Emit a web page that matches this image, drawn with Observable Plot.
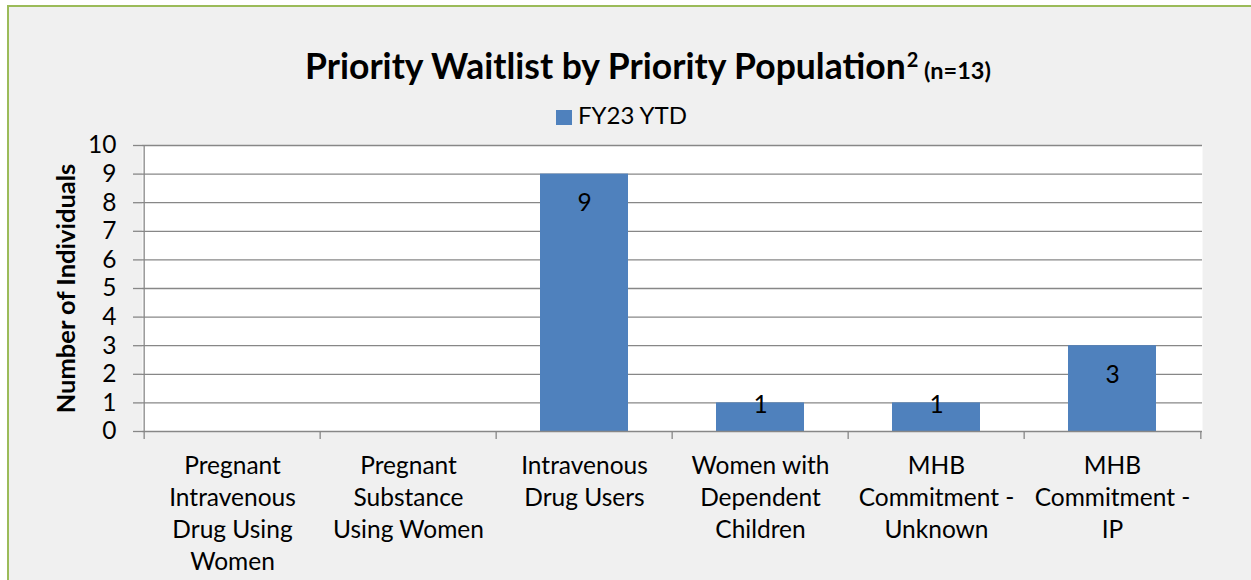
<!DOCTYPE html>
<html>
<head>
<meta charset="utf-8">
<script src="https://cdn.jsdelivr.net/npm/d3@7"></script>
<script src="https://cdn.jsdelivr.net/npm/@observablehq/plot@0.6"></script>
<style>
  html, body { margin: 0; padding: 0; background: #ffffff; }
  #wrap { position: relative; width: 1251px; height: 580px; overflow: hidden; font-family: Lato, sans-serif; color: #000; }
  #border { position: absolute; left: 7px; top: 5px; width: 1400px; height: 800px; border: 2px solid #9bbb59; background: #f0f0f0; box-sizing: border-box; }
  #title { position: absolute; left: 648px; top: 48px; transform: translateX(-50%); white-space: nowrap; font-weight: bold; line-height: 1; }
  #title .main { font-size: 35.5px; }
  #title sup { font-size: 20px; vertical-align: 12px; line-height: 0; margin-left: 1px; }
  #title .n { font-size: 23.5px; }
  #legend { position: absolute; left: 556px; top: 103px; white-space: nowrap; font-size: 24px; line-height: 1; }
  #legend .sw { position: absolute; left: 0; top: 7px; width: 16px; height: 15px; background: #4f81bd; }
  #legend .lbl { position: absolute; left: 22px; top: 0; }
  #chart { position: absolute; left: 0; top: 0; }
</style>
</head>
<body>
<div id="wrap">
  <div id="border"></div>
  <div id="chart"></div>
  <div id="title"><span class="main">Priority Waitlist by Priority Population</span><sup>2</sup><span class="n"> (n=13)</span></div>
  <div id="legend"><span class="sw"></span><span class="lbl"></span></div>
</div>
<script>
const categories = [
  "Pregnant Intravenous Drug Using Women",
  "Pregnant Substance Using Women",
  "Intravenous Drug Users",
  "Women with Dependent Children",
  "MHB Commitment - Unknown",
  "MHB Commitment - IP"
];
const tickLabels = [
  "Pregnant\nIntravenous\nDrug Using\nWomen",
  "Pregnant\nSubstance\nUsing Women",
  "Intravenous\nDrug Users",
  "Women with\nDependent\nChildren",
  "MHB\nCommitment -\nUnknown",
  "MHB\nCommitment -\nIP"
];
const values = [0, 0, 9, 1, 1, 3];
const yTicks = [0, 1, 2, 3, 4, 5, 6, 7, 8, 9, 10];
const seriesName = "FY23 YTD";
const yTitle = "Number of Individuals";

document.querySelector("#legend .lbl").textContent = seriesName;

const W = 1251, H = 580, ML = 142, MR = 49, MT = 145, MB = 149;
const step = (W - ML - MR) / categories.length;
const gray = "#878787";
const data = categories.map((c, i) => ({category: c, label: tickLabels[i], value: values[i]}));
const first = categories[0], last = categories[categories.length - 1];

const chart = Plot.plot({
  width: W, height: H,
  marginLeft: ML, marginRight: MR, marginTop: MT, marginBottom: MB,
  style: {background: "transparent", fontFamily: "Lato, sans-serif", fontSize: "24px", color: "#000", overflow: "visible"},
  x: {type: "band", domain: categories, paddingInner: 0.5, paddingOuter: 0.25, axis: null},
  y: {domain: [0, 10], axis: null},
  marks: [
    Plot.frame({fill: "white", stroke: "none"}),
    Plot.ruleY(yTicks.filter(t => t > 0), {y: d => d, stroke: gray, strokeWidth: 1.3}),
    Plot.axisY({ticks: yTicks, tickSize: 9, tickPadding: 17, stroke: gray, strokeWidth: 1.3, label: null, fontSize: 24.5, textStroke: "none"}),
    Plot.barY(data.filter(d => d.value > 0), {x: "category", y: "value", fill: "#4f81bd"}),
    Plot.ruleY([0], {y: d => d, stroke: gray, strokeWidth: 1.3}),
    Plot.ruleX(categories, {x: d => d, y1: d => d === first ? 10 : 0, y2: () => 0, dx: -step / 2, insetBottom: -8, stroke: gray, strokeWidth: 1.3}),
    Plot.ruleX([last], {x: d => d, y1: () => 0, y2: () => 0, dx: step / 2, insetBottom: -8, stroke: gray, strokeWidth: 1.3}),
    Plot.text(data.filter(d => d.value >= 2), {x: "category", y: "value", text: d => String(d.value), dy: 29, fontSize: 24.5, fill: "#000"}),
    Plot.text(data.filter(d => d.value === 1), {x: "category", y: "value", text: d => String(d.value), dy: 2, fontSize: 24.5, fill: "#000"}),
    Plot.text(data, {x: "category", text: "label", frameAnchor: "bottom", lineAnchor: "top", dy: 20, lineHeight: 32 / 24.5, fontSize: 24.5, fill: "#000"}),
    Plot.text([yTitle], {frameAnchor: "left", textAnchor: "middle", text: d => d, rotate: -90, dx: -76, fontWeight: "bold", fontSize: 25.5, fill: "#000"})
  ]
});
document.getElementById("chart").appendChild(chart);
</script>
</body>
</html>
